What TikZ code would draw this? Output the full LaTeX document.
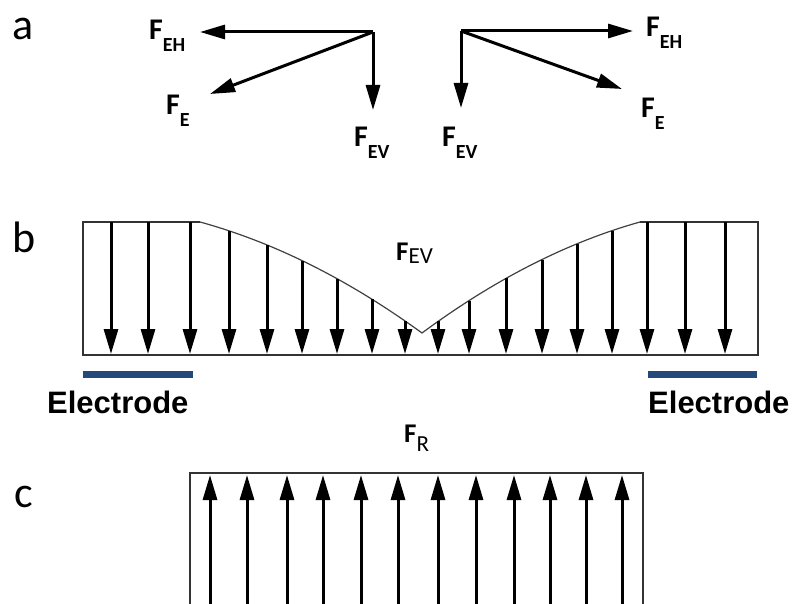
\documentclass[tikz,border=0pt]{standalone}
\usepackage{fontspec}
\setmainfont{Carlito}
\newfontfamily\arialfont{Liberation Sans}
\usetikzlibrary{arrows.meta}
\definecolor{electrodeblue}{RGB}{36,72,122}
\newcommand{\FSub}[1]{{\fontsize{30pt}{30pt}\selectfont F}\raisebox{-12pt}{\fontsize{20pt}{20pt}\selectfont #1}}
\newcommand{\FLow}[2]{{\bfseries\fontsize{27pt}{27pt}\selectfont F}\raisebox{-#2}{\fontsize{23pt}{23pt}\selectfont #1}}
\begin{document}
\begin{tikzpicture}[x=1pt,y=-1pt,
  vec/.style={line width=3pt, -{Triangle[length=25pt,width=14pt]}},
  frame/.style={draw=black!80, line width=1.5pt},
  curveline/.style={draw=black!75, line width=1.2pt},
  lbl/.style={inner sep=0pt, anchor=base west, font=\bfseries},
  panel/.style={inner sep=0pt, anchor=base west, font=\fontsize{44pt}{44pt}\selectfont},
  elabel/.style={inner sep=0pt, anchor=base west, font=\arialfont\bfseries\fontsize{31pt}{31pt}\selectfont},
  electrode/.style={fill=electrodeblue, draw=none},
]
\useasboundingbox (0,0) rectangle (797,604);
\clip (0,0) rectangle (797,604);

% panel letters
\node[panel] (la) at (12,40) {a};
\node[panel] (lb) at (12,252) {b};
\node[panel] (lc) at (14,507) {c};

% ---------- panel a ----------
\coordinate (oL) at (373,32);
\coordinate (tLH) at (200,32);
\coordinate (tLE) at (210,94);
\coordinate (tLV) at (373,110);
\draw[vec] (oL) -- (tLH);
\draw[vec] (oL) -- (tLE);
\draw[vec] (oL) -- (tLV);
\node[lbl] (fLH) at (149,40) {\FSub{EH}};
\node[lbl] (fLE) at (166,115) {\FSub{E}};
\node[lbl] (fLV) at (354,147) {\FSub{EV}};

\coordinate (oR) at (461,31);
\coordinate (tRH) at (633,31);
\coordinate (tRE) at (622,89);
\coordinate (tRV) at (461,108);
\draw[vec] (oR) -- (tRH);
\draw[vec] (oR) -- (tRE);
\draw[vec] (oR) -- (tRV);
\node[lbl] (fRH) at (646,37) {\FSub{EH}};
\node[lbl] (fRE) at (641,118) {\FSub{E}};
\node[lbl] (fRV) at (442,147) {\FSub{EV}};

% ---------- panel b ----------
\draw[frame] (200,222) -- (83,222) -- (83,355) -- (758,355) -- (758,222) -- (640,222);
\draw[curveline] (200,222) .. controls (274,242.33) and (348,279.33) .. (422,333)
                 .. controls (494.67,279.33) and (567.33,242.33) .. (640,222);
\foreach \x in {111,148,190,647,685,725} {
  \draw[vec] (\x,222) -- (\x,354);
}
\foreach \x in {229,267,302,337,372,405} {
  \pgfmathsetmacro{\tt}{(\x-200)/222}
  \pgfmathsetmacro{\yy}{222+61*\tt*(1-\tt)+111*\tt*\tt}
  \draw[vec] (\x,\yy) -- (\x,354);
}
\foreach \x in {438,469,506,542,577,612} {
  \pgfmathsetmacro{\tt}{(640-\x)/218}
  \pgfmathsetmacro{\yy}{222+61*\tt*(1-\tt)+111*\tt*\tt}
  \draw[vec] (\x,\yy) -- (\x,354);
}
\node[inner sep=0pt, anchor=base west] (fEV) at (396,260) {\FLow{EV}{3pt}};

% electrodes
\fill[electrode] (83,371) rectangle (193,378);
\fill[electrode] (648,371) rectangle (757,378);
\node[elabel] (eL) at (47,413) {Electrode};
\node[elabel] (eR) at (648,413) {Electrode};

% ---------- panel c ----------
\node[inner sep=0pt, anchor=base west] (fR) at (404,442) {\FLow{R}{9pt}};
\draw[frame] (190,620) -- (190,473) -- (643,473) -- (643,620);
\foreach \x in {210,247,287,323,361,398,438,476,514,550,586,622} {
  \draw[vec] (\x,620) -- (\x,475);
}
\end{tikzpicture}
\end{document}
